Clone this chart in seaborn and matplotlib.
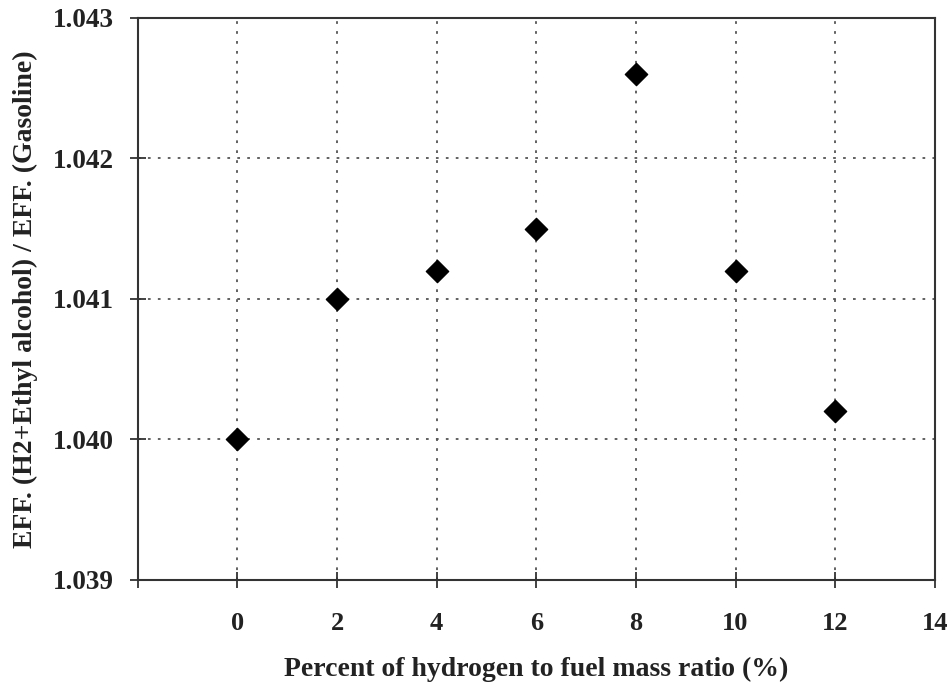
import matplotlib
matplotlib.use("Agg")
import matplotlib.pyplot as plt
import seaborn as sns
import pandas as pd

hydrogen_pct = [0, 2, 4, 6, 8, 10, 12]
eff_ratio = [1.0400, 1.0410, 1.0412, 1.0415, 1.0426, 1.0412, 1.0402]
x_ticks = [-2, 0, 2, 4, 6, 8, 10, 12, 14]
x_tick_labels = ["", "0", "2", "4", "6", "8", "10", "12", "14"]
y_ticks = [1.039, 1.040, 1.041, 1.042, 1.043]
y_tick_labels = ["1.039", "1.040", "1.041", "1.042", "1.043"]

sns.set_style("white")
plt.rcParams['font.family'] = ['Liberation Serif', 'DejaVu Serif']

df = pd.DataFrame({"x": hydrogen_pct, "y": eff_ratio})

fig = plt.figure(figsize=(9.5, 6.88), dpi=100)
ax = fig.add_axes([0.145, 0.157, 0.839, 0.817])
sns.scatterplot(data=df, x="x", y="y", marker="D", s=130, color="black",
                edgecolor="black", ax=ax, zorder=5)

ax.set_xlim(-2, 14)
ax.set_ylim(1.039, 1.043)
ax.set_xticks(x_ticks)
ax.set_xticklabels(x_tick_labels, fontsize=19, fontweight="bold", color="#222222")
ax.set_yticks(y_ticks)
ax.set_yticklabels(y_tick_labels, fontsize=19.5, fontweight="bold", color="#222222")
ax.tick_params(axis="both", bottom=True, left=True, direction="inout", length=12,
               width=1.3, color="#333333")
ax.tick_params(axis="x", pad=17)
ax.tick_params(axis="y", pad=11)
ax.grid(True, linestyle=(0, (1.5, 4)), color="#555555", linewidth=1.3)
for sp in ax.spines.values():
    sp.set_color("#333333")
    sp.set_linewidth(1.5)
    sp.set_visible(True)

ax.set_xlabel("Percent of hydrogen to fuel mass ratio (%)", fontsize=20,
              fontweight="bold", labelpad=16, color="#222222")
ax.set_ylabel("EFF. (H2+Ethyl alcohol) / EFF. (Gasoline)", fontsize=20,
              fontweight="bold", labelpad=11, color="#222222")

fig.savefig("out.png", dpi=100)
